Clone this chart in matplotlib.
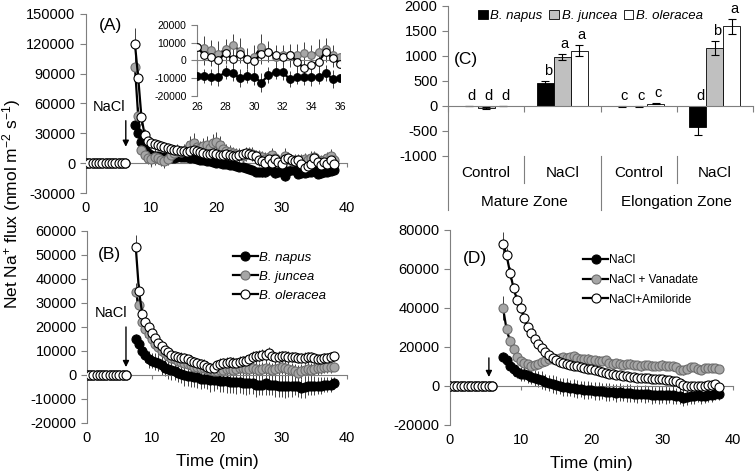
import numpy as np
import matplotlib
matplotlib.use('Agg')
import matplotlib.pyplot as plt
from matplotlib.transforms import blended_transform_factory

plt.rcParams['font.family'] = ['Liberation Sans', 'DejaVu Sans']
plt.rcParams['mathtext.fontset'] = 'custom'
plt.rcParams['mathtext.rm'] = 'Liberation Sans'
plt.rcParams['mathtext.it'] = 'Liberation Sans:italic'
plt.rcParams['axes.unicode_minus'] = False

# sampling times (min): before and after NaCl addition
time_pre = np.arange(0, 6.01, 0.5)
time_post = np.arange(7.5, 38.01, 0.5)
pre_flux = [0, 0, 0, 0, 0, 0, 0, 0, 0, 0, 0, 0, 0]

# ---- panel A: mature zone, three species ----
napus_a = [38000, 30000, 21000, 14000, 10000, 8000, 7000, 7500, 6500, 6000,
           5500, 5000, 5500, 6000, 6000, 6500, 6000, 5500, 5000, 4500,
           3500, 3000, 2500, 2000, 1000, 500, 0, -500, -1000, -1500,
           -2000, -3000, -3500, -4000, -5000, -6000, -7000,
           -8700, -8700, -9100, -9100, -6700, -7200, -10000, -8700, -9100, -12500,
           -8200, -6700, -6700, -10600, -9500, -9500, -9100, -9100, -7200, -10400,
           -10000, -9000, -8500, -7500, -7000]
juncea_a = [97000, 47000, 13000, 8000, 5000, 4000, 6000, 5000, 3000, 2000,
            4000, 8000, 10000, 12000, 11000, 12000, 14000, 18000, 20000, 16000,
            15000, 17000, 18000, 15000, 20000, 21000, 18000, 14000, 12000, 11000,
            10000, 9000, 8000, 7000, 9000, 10000, 9000,
            7700, 7100, 5800, 3900, 6200, 8600, 5500, 1100, 2000, 7700,
            5000, 2000, 3000, 3000, 3300, 4000, 3000, 5000, 6200, 3000,
            1700, 3000, 5000, 7000, 3000]
oleracea_a = [120000, 86000, 46000, 28000, 22000, 20000, 19000, 18000, 17000, 16000,
              15000, 14000, 13000, 13000, 12000, 12000, 11000, 12000, 13000, 12000,
              11000, 10000, 9000, 9000, 10000, 9000, 8000, 8000, 9000, 8000,
              7000, 7000, 8000, 9000, 10000, 9000, 8000,
              7700, 3000, 2000, 200, 4300, 600, 3900, 1100, -400, 3900,
              4900, 3000, 2000, 3000, -700, -4500, -2600, -700, 4900, 1200,
              -1700, 1000, -1000, 3000, -1000]
napus_a_err = [6000, 5000, 5000, 4000, 4000, 4000, 5000, 4000, 4000, 4000,
               4000, 3000, 3000, 4000, 4000, 4000, 3000, 3000, 3000, 4000,
               3000, 3000, 3000, 3000, 4000, 3000, 3000, 3000, 3000, 4000,
               3000, 3000, 4000, 3000, 3000, 3000, 4000,
               4500, 4000, 4500, 5000, 4000, 4500, 5000, 4000, 4500, 5500,
               4500, 4000, 4500, 4500, 4000, 4500, 5000, 4000, 4500, 5000,
               4500, 4000, 4000, 3500, 3500]
juncea_a_err = [12000, 9000, 7000, 7000, 6000, 7000, 8000, 6000, 6000, 7000,
                6000, 7000, 8000, 7000, 6000, 7000, 8000, 9000, 10000, 8000,
                7000, 8000, 9000, 8000, 9000, 10000, 9000, 8000, 7000, 7000,
                6000, 6000, 7000, 6000, 7000, 6000, 7000,
                6000, 6500, 6000, 7000, 6000, 6500, 7000, 6000, 6500, 7500,
                6000, 6500, 6000, 6500, 6000, 6500, 6000, 7000, 6500, 6000,
                6500, 6000, 6000, 7000, 6000]
oleracea_a_err = [16000, 10000, 8000, 6000, 6000, 5000, 5000, 5000, 4000, 5000,
                  5000, 4000, 5000, 5000, 4000, 5000, 5000, 6000, 5000, 5000,
                  4000, 5000, 5000, 4000, 5000, 5000, 4000, 5000, 4000, 4000,
                  5000, 4000, 4000, 5000, 5000, 4000, 5000,
                  5000, 5500, 5000, 5000, 5500, 5000, 5000, 5500, 5000, 6000,
                  5000, 5000, 5000, 5500, 5000, 5500, 5000, 5000, 5500, 5000,
                  5000, 5000, 5000, 5000, 5000]

# ---- panel B: elongation zone, three species ----
napus_b = [15000, 13000, 10000, 8500, 6500, 6000, 5500, 5000, 4000, 3000,
           2500, 2000, 1500, 1000, 500, 0, -500, -500, -1000, -1000,
           -1500, -1500, -1500, -2000, -2000, -2000, -2500, -2500, -2500, -3000,
           -3000, -3000, -3000, -3500, -3500, -3500, -3500, -4000, -4000, -4000,
           -3500, -4000, -4000, -4000, -4500, -4500, -4500, -4500, -4500, -4500,
           -4500, -5500, -5000, -4500, -4500, -4500, -4500, -4500, -4000, -4000,
           -4000, -3500]
juncea_b = [34500, 29000, 22000, 19000, 17000, 15000, 13000, 11500, 10000, 9000,
            8000, 7000, 6500, 6000, 5500, 5000, 4500, 4000, 3500, 3500,
            3000, 3000, 2500, 2000, 1500, 1500, 2000, 2000, 2500, 2500,
            2000, 2500, 3000, 3000, 2500, 2500, 3000, 2500, 2000, 2500,
            3000, 2500, 2000, 2500, 3000, 3500, 3000, 2500, 2000, 1500,
            1000, 1500, 2000, 2500, 2000, 2500, 3000, 3000, 3500, 3500,
            3500, 3500]
oleracea_b = [53500, 35000, 25500, 22000, 20000, 17500, 15500, 13500, 12000, 10500,
              9500, 8500, 8000, 7500, 7000, 7000, 6500, 6000, 5500, 5000,
              4500, 4000, 3500, 3000, 3000, 4000, 4500, 5000, 5000, 5500,
              5000, 5000, 5500, 6000, 6000, 6500, 7500, 8000, 8000, 8500,
              8500, 9000, 8000, 7500, 7500, 8000, 8000, 7500, 7500, 7500,
              7000, 7000, 7000, 7500, 7500, 7000, 6500, 6500, 7000, 7000,
              7500, 8000]
napus_b_err = [2000, 2500, 3000, 3000, 3500, 3000, 3500, 3500, 4000, 3500,
               4000, 4000, 3500, 4000, 4000, 4500, 4000, 4500, 4000, 4500,
               4500, 4000, 4500, 5000, 4500, 4000, 4500, 4500, 5000, 4500,
               4500, 5000, 4500, 4500, 5000, 4500, 4500, 5000, 4500, 4500,
               5000, 4500, 4500, 5000, 4500, 4500, 5000, 4500, 4500, 4000,
               4500, 4000, 4500, 4000, 4000, 4000, 3500, 3500, 3000, 3000,
               3000, 2500]
juncea_b_err = [4000, 3500, 3000, 3000, 3000, 3000, 2500, 3000, 2500, 2500,
                3000, 2500, 3000, 2500, 3000, 3000, 2500, 3000, 3000, 2500,
                3000, 3000, 3500, 3000, 3000, 3000, 3500, 3000, 3500, 3000,
                3000, 3500, 3000, 3000, 3500, 3000, 3000, 3500, 3000, 3000,
                3500, 3000, 3000, 3500, 3000, 3000, 3500, 3000, 3000, 3000,
                3000, 3000, 2500, 3000, 3000, 2500, 3000, 2500, 2500, 2500,
                2500, 2000]
oleracea_b_err = [5000, 3000, 2500, 2500, 2500, 2000, 2000, 2000, 2000, 2000,
                  2000, 2500, 2000, 2000, 2500, 2000, 2000, 2500, 2000, 2000,
                  2000, 2500, 2000, 2000, 2500, 2000, 2500, 2000, 2500, 2000,
                  2500, 2000, 2500, 2000, 2500, 2000, 2500, 2000, 2500, 2500,
                  2000, 2500, 2000, 2000, 2500, 2000, 2000, 2500, 2000, 2000,
                  2000, 2000, 2500, 2000, 2000, 2000, 2000, 2000, 2000, 2000,
                  2000, 1500]

# ---- panel C: mean flux by zone and treatment ----
treatments = ['Control', 'NaCl', 'Control', 'NaCl']
zones = ['Mature Zone', 'Elongation Zone']
napus_c = [-5, 465, -10, -430]
juncea_c = [-40, 980, -10, 1160]
oleracea_c = [-5, 1100, 40, 1590]
napus_c_err = [5, 25, 5, 150]
juncea_c_err = [15, 65, 5, 140]
oleracea_c_err = [5, 110, 10, 150]
napus_letters = ['d', 'b', 'c', 'd']
juncea_letters = ['d', 'a', 'c', 'b']
oleracea_letters = ['d', 'a', 'c', 'a']

# ---- panel D: inhibitors ----
nacl_d = [15000, 13500, 10000, 8500, 7000, 6000, 6000, 5500, 4500, 4000,
          3500, 3000, 2000, 1500, 1000, 500, 0, -500, -500, -1000,
          -1000, -1500, -1500, -2000, -2000, -2000, -2500, -2500, -2500, -3000,
          -3000, -3000, -3500, -3000, -3500, -3500, -3500, -4000, -4000, -4000,
          -4000, -4000, -4500, -4500, -4500, -4500, -4500, -4500, -4500, -5000,
          -5000, -6000, -5500, -5000, -5000, -4500, -5000, -5000, -4500, -4500,
          -4000, -4000]
vanadate_d = [40000, 29000, 23000, 19000, 15000, 13000, 12000, 11500, 10500, 11000,
              11500, 12500, 13000, 14000, 14000, 14000, 14500, 15000, 14500, 15000,
              15500, 14500, 14000, 14000, 14000, 13500, 13500, 13000, 13000, 13500,
              12000, 11500, 12000, 11500, 11000, 11500, 11500, 11000, 11000, 10000,
              11000, 11000, 10500, 10000, 10500, 11000, 10500, 10000, 10000, 9500,
              8000, 8000, 8500, 9500, 9500, 8500, 8000, 9000, 9000, 9000,
              9000, 8500]
amiloride_d = [73000, 67000, 58000, 50000, 44000, 40000, 35000, 30000, 27000, 24000,
               21500, 19500, 17500, 16000, 14500, 13500, 12500, 12000, 11500, 11000,
               10500, 10000, 9500, 9000, 8500, 8500, 8000, 7500, 7000, 6500,
               6000, 6000, 5500, 5500, 5000, 5000, 4500, 4500, 4000, 4000,
               4000, 4000, 3500, 3500, 3500, 3500, 3000, 3000, 2500, 2500,
               1500, 500, 0, 0, 0, 0, 0, 0, 500, 500,
               1000, -500]
nacl_d_err = [2500, 3000, 3000, 3500, 3000, 3500, 3500, 4000, 3500, 4000,
              4000, 4500, 4000, 4000, 4500, 4500, 4000, 4500, 4500, 4000,
              4500, 4500, 4000, 4500, 4500, 4000, 4500, 4500, 4000, 4500,
              4500, 4000, 4500, 4500, 4000, 4500, 4500, 4000, 4500, 4000,
              4500, 4000, 4500, 4000, 4500, 4000, 4500, 4000, 4500, 4000,
              4000, 4500, 4000, 4000, 4000, 3500, 4000, 3500, 3500, 3500,
              3000, 3000]
vanadate_d_err = [6000, 3000, 2500, 2500, 2000, 2000, 2000, 2000, 2500, 2000,
                  2000, 2000, 2500, 2000, 2000, 2500, 2000, 2000, 2500, 2000,
                  2000, 2500, 2000, 2000, 2500, 2000, 2000, 2500, 2000, 2000,
                  2500, 2000, 2000, 2500, 2000, 2000, 2500, 2000, 2000, 2500,
                  2000, 2000, 2500, 2000, 2000, 2500, 2000, 2000, 2500, 2000,
                  2000, 2500, 2000, 2000, 2500, 2000, 2000, 2000, 2000, 2000,
                  2000, 1500]
amiloride_d_err = [6000, 4000, 3000, 3000, 2500, 2500, 2500, 2000, 2000, 2000,
                   2000, 2000, 2000, 2000, 2000, 1500, 2000, 1500, 2000, 1500,
                   2000, 1500, 2000, 1500, 2000, 1500, 2000, 1500, 2000, 1500,
                   1500, 2000, 1500, 1500, 2000, 1500, 1500, 2000, 1500, 1500,
                   2000, 1500, 1500, 2000, 1500, 1500, 1500, 2000, 1500, 1500,
                   1500, 1500, 1500, 1500, 1500, 1500, 1500, 1500, 1500, 1500,
                   1500, 1500]

AXC = '#7f7f7f'
STYLES = [('black', 'black'), ('#a6a6a6', '#6e6e6e'), ('white', 'black')]
MS = 6.5


def draw_series(ax, t, y, err, style, label=None, ms=MS):
    face, edge = style
    ax.errorbar(t, y, yerr=err, fmt='none', ecolor='#404040', elinewidth=0.7,
                capsize=0, zorder=2)
    line, = ax.plot(t, y, '-o', color='black', lw=1.6, ms=ms, mfc=face, mec=edge,
                    mew=0.8, label=label, zorder=3)
    return line


def draw_pre(ax, style):
    ax.plot(time_pre, pre_flux, '-o', color='black', lw=1.2, ms=MS,
            mfc=style[0], mec=style[1], mew=0.8, zorder=3)


def time_axis(ax, ylim, yticks, xticks, fs=10.5, pad=6):
    ax.set_xlim(xticks[0], xticks[-1])
    ax.set_ylim(*ylim)
    ax.set_yticks(yticks)
    ax.spines[['top', 'right']].set_visible(False)
    ax.spines['bottom'].set_position(('data', 0))
    for s in ['left', 'bottom']:
        ax.spines[s].set_color(AXC)
        ax.spines[s].set_linewidth(0.8)
    ax.set_xticks(xticks)
    ax.tick_params(axis='x', labelbottom=False, length=3, color=AXC)
    ax.tick_params(axis='y', length=4, color=AXC, labelsize=fs)
    sec = ax.secondary_xaxis('bottom')
    sec.set_xticks(xticks)
    sec.spines['bottom'].set_visible(False)
    sec.tick_params(length=0, labelsize=fs, pad=pad)
    return sec


def nacl_arrow(ax, x, y0, y1):
    ax.annotate('', xy=(x, y1), xytext=(x, y0),
                arrowprops=dict(arrowstyle='-|>', color='black', lw=1, mutation_scale=9,
                                shrinkA=0, shrinkB=0))


fig = plt.figure(figsize=(7.55, 4.74), dpi=100)

# ---------- A ----------
axA = fig.add_axes([0.1139, 0.5928, 0.3457, 0.3777])
time_axis(axA, (-30000, 150000), np.arange(-30000, 150001, 30000), [0, 10, 20, 30, 40])
for vals, err, st in [(napus_a, napus_a_err, STYLES[0]),
                      (juncea_a, juncea_a_err, STYLES[1]),
                      (oleracea_a, oleracea_a_err, STYLES[2])]:
    draw_series(axA, time_post, vals, err, st)
    draw_pre(axA, st)
axA.text(0.092, 0.938, '(A)', transform=axA.transAxes, fontsize=12.5, ha='center', va='center')
axA.text(3.6, 56000, 'NaCl', fontsize=10.5, ha='center', va='center')
nacl_arrow(axA, 6.1, 42700, 16500)

# inset of A
axI = fig.add_axes([0.2609, 0.7975, 0.1894, 0.1498])
axI.patch.set_alpha(0)
time_axis(axI, (-20000, 20000), [-20000, -10000, 0, 10000, 20000],
          [26, 28, 30, 32, 34, 36], fs=7.5, pad=4)
sel = (time_post >= 25.9) & (time_post <= 36.1)
for vals, err, st in [(napus_a, napus_a_err, STYLES[0]),
                      (juncea_a, juncea_a_err, STYLES[1]),
                      (oleracea_a, oleracea_a_err, STYLES[2])]:
    draw_series(axI, time_post[sel], np.array(vals)[sel], np.array(err)[sel], st, ms=5.5)

# ---------- B ----------
axB = fig.add_axes([0.1152, 0.1076, 0.3444, 0.4051])
secB = time_axis(axB, (-20000, 60000), np.arange(-20000, 60001, 10000), [0, 10, 20, 30, 40])
handles = []
for vals, err, st, lab in [(napus_b, napus_b_err, STYLES[0], 'B. napus'),
                           (juncea_b, juncea_b_err, STYLES[1], 'B. juncea'),
                           (oleracea_b, oleracea_b_err, STYLES[2], 'B. oleracea')]:
    handles.append(draw_series(axB, time_post, vals, err, st, label=lab))
    draw_pre(axB, st)
axB.legend(handles=handles, loc='upper left', bbox_to_anchor=(0.54, 0.92), frameon=False,
           prop={'style': 'italic', 'size': 9.5}, handlelength=1.9, handletextpad=0.1,
           labelspacing=0.5, borderaxespad=0)
axB.text(0.085, 0.875, '(B)', transform=axB.transAxes, fontsize=12.5, ha='center', va='center')
axB.text(3.7, 25800, 'NaCl', fontsize=10.5, ha='center', va='center')
nacl_arrow(axB, 6.0, 20000, 3300)
secB.set_xlabel('Time (min)', fontsize=12.5, labelpad=6)

# ---------- C ----------
axC = fig.add_axes([0.5934, 0.6709, 0.404, 0.3165])
xc = np.arange(len(treatments))
bw = 0.223
for k, (vals, err, col, lab, lets) in enumerate([
        (napus_c, napus_c_err, 'black', 'B. napus', napus_letters),
        (juncea_c, juncea_c_err, '#c0c0c0', 'B. juncea', juncea_letters),
        (oleracea_c, oleracea_c_err, 'white', 'B. oleracea', oleracea_letters)]):
    pos = xc + (k - 1) * bw
    axC.bar(pos, vals, bw, yerr=err, color=col, edgecolor='black', linewidth=0.6,
            label=lab, error_kw=dict(ecolor='black', elinewidth=0.8, capsize=3, capthick=0.8))
    for p, v, e, l in zip(pos, vals, err, lets):
        axC.text(p + 0.03, max(v + e, 0) + 60, l, fontsize=10.5, ha='center', va='bottom')
axC.set_xlim(-0.5, 3.5)
axC.set_ylim(-1000, 2000)
axC.set_yticks(np.arange(-1000, 2001, 500))
axC.spines[['top', 'right']].set_visible(False)
axC.spines['bottom'].set_position(('data', 0))
for s in ['left', 'bottom']:
    axC.spines[s].set_color(AXC)
    axC.spines[s].set_linewidth(0.8)
axC.set_xticks([-0.5, 0.5, 1.5, 2.5, 3.5])
axC.tick_params(axis='x', labelbottom=False, length=4, color=AXC)
axC.tick_params(axis='y', length=4, color=AXC, labelsize=10.5)
trC = blended_transform_factory(axC.transData, axC.transAxes)
for xv, low in [(-0.5, -0.36), (0.5, -0.18), (1.5, -0.36), (2.5, -0.18)]:
    axC.plot([xv, xv], [0, low], color=AXC, lw=0.8, transform=trC, clip_on=False)
for i, lab in enumerate(treatments):
    axC.text(i, -0.113, lab, transform=trC, fontsize=11, ha='center', va='center')
for i, lab in enumerate(zones):
    axC.text(2 * i + 0.5, -0.305, lab, transform=trC, fontsize=11, ha='center', va='center')
axC.legend(loc='center', bbox_to_anchor=(0.467, 0.933), ncol=3, frameon=False,
           prop={'style': 'italic', 'size': 9.5}, handlelength=0.75, handleheight=0.75,
           handletextpad=0.2, columnspacing=0.5, borderaxespad=0)
axC.text(0.059, 0.64, '(C)', transform=axC.transAxes, fontsize=12.5, ha='center', va='center')

# ---------- D ----------
axD = fig.add_axes([0.596, 0.1034, 0.3748, 0.4114])
secD = time_axis(axD, (-20000, 80000), np.arange(-20000, 80001, 20000), [0, 10, 20, 30, 40])
handles = []
for vals, err, st, lab in [(nacl_d, nacl_d_err, STYLES[0], 'NaCl'),
                           (vanadate_d, vanadate_d_err, STYLES[1], 'NaCl + Vanadate'),
                           (amiloride_d, amiloride_d_err, STYLES[2], 'NaCl+Amiloride')]:
    handles.append(draw_series(axD, time_post, vals, err, st, label=lab))
    draw_pre(axD, st)
axD.legend(handles=handles, loc='upper left', bbox_to_anchor=(0.455, 0.9), frameon=False,
           fontsize=8.5, handlelength=2.1, handletextpad=0.1, labelspacing=0.65, borderaxespad=0)
axD.text(0.088, 0.856, '(D)', transform=axD.transAxes, fontsize=12.5, ha='center', va='center')
nacl_arrow(axD, 5.5, 14400, 4600)
secD.set_xlabel('Time (min)', fontsize=12.5, labelpad=6)

fig.text(0.015, 0.571, r'Net Na$^{+}$ flux (nmol m$^{-2}$ s$^{-1}$)', rotation=90,
         fontsize=12.5, ha='center', va='center')

fig.savefig('out.png', dpi=100)
